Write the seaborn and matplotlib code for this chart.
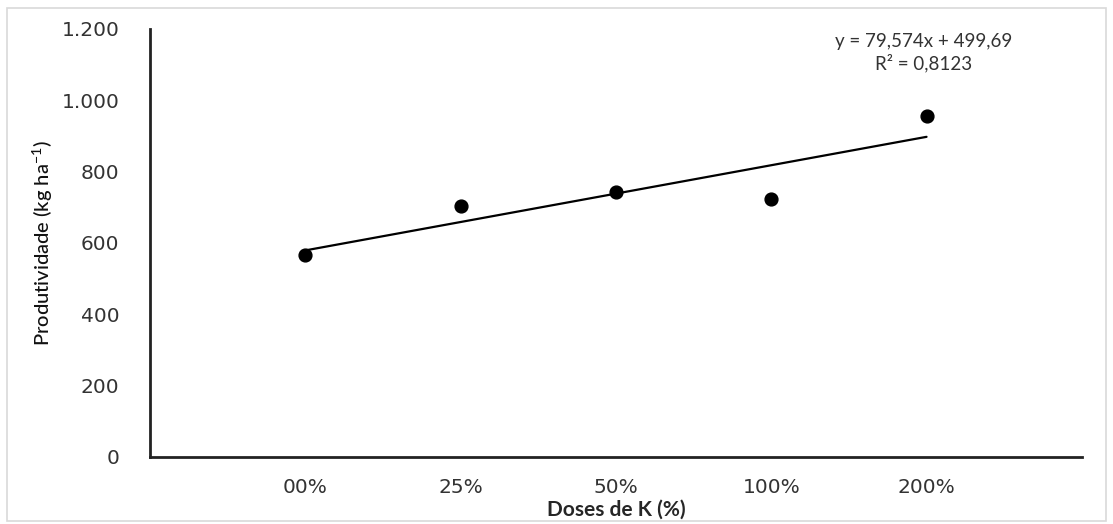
import numpy as np
import pandas as pd
import matplotlib
matplotlib.use("Agg")
import matplotlib.pyplot as plt
import seaborn as sns
from matplotlib.patches import Rectangle

# dados
doses = ['00%', '25%', '50%', '100%', '200%']
produtividade = [567, 704, 743, 722, 956]
y_ticks = [0, 200, 400, 600, 800, 1000, 1200]
y_tick_labels = ['0', '200', '400', '600', '800', '1.000', '1.200']
equacao = 'y = 79,574x + 499,69'
r2 = 'R² = 0,8123'

df = pd.DataFrame({'pos': np.arange(1, len(doses) + 1), 'prod': produtividade})

sns.set_style('white')
plt.rcParams['font.family'] = ['DejaVu Sans']

fig = plt.figure(figsize=(11.13, 5.24), dpi=100)
ax = fig.add_axes([0.1348, 0.1279, 0.972 - 0.1348, 0.9447 - 0.1279])

sns.regplot(data=df, x='pos', y='prod', ax=ax, ci=None, truncate=True,
            scatter_kws={'color': 'black', 's': 85, 'alpha': 1, 'edgecolor': 'black', 'zorder': 3},
            line_kws={'color': 'black', 'linewidth': 1.6})

ax.set_xlim(0, 6)
ax.set_ylim(0, 1200)
ax.set_xticks(df['pos'])
ax.set_xticklabels(doses, fontsize=14.5, color='#333333')
ax.set_yticks(y_ticks)
ax.set_yticklabels(y_tick_labels, fontsize=14.5, color='#333333')
ax.tick_params(axis='y', length=0, pad=22)
ax.tick_params(axis='x', length=0, pad=15)

for side in ['top', 'right']:
    ax.spines[side].set_visible(False)
for side in ['left', 'bottom']:
    ax.spines[side].set_color('#222222')
    ax.spines[side].set_linewidth(2)

ax.set_xlabel('Doses de K (%)', fontsize=15, fontweight='bold', family='Lato', labelpad=2)
ax.set_ylabel('Produtividade (kg ha$^{\\mathregular{-1}}$)', fontsize=14.5, family='Lato',
              fontweight='medium', labelpad=5, color='#111111')

fig.text(924 / 1113, 1 - 42 / 524, equacao, ha='center', va='center', fontsize=13.5,
         family='Lato', color='#333333')
fig.text(924 / 1113, 1 - 63 / 524, r2, ha='center', va='center', fontsize=13.5,
         family='Lato', color='#333333')

# moldura do grafico
fig.patches.append(Rectangle((0.006, 0.006), 0.988, 0.978, transform=fig.transFigure,
                             fill=False, edgecolor='#d9d9d9', linewidth=1.2))

fig.savefig('out.png', dpi=100)
